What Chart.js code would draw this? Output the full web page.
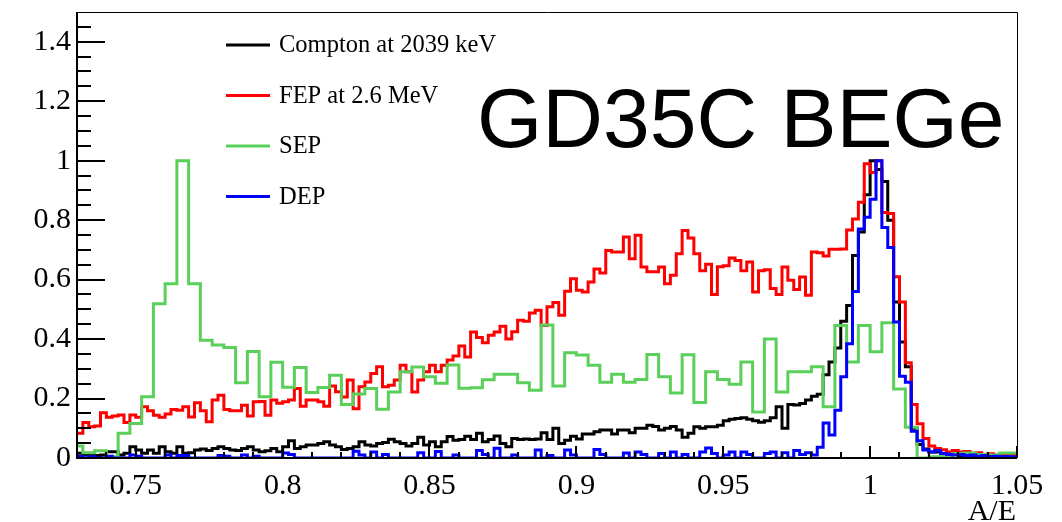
<!DOCTYPE html>
<html>
<head>
<meta charset="utf-8">
<script src="https://cdn.jsdelivr.net/npm/chart.js@4.4.1/dist/chart.umd.min.js"></script>
<style>
  body { margin: 0; background: #fff; }
  canvas { display: block; }
</style>
</head>
<body>
<canvas id="chart-ae" width="1062" height="522"></canvas>
<script>
// A/E distributions, each normalised to its maximum
labels = ['Compton at 2039 keV', 'FEP at 2.6 MeV', 'SEP', 'DEP']
colors = ['rgb(0, 0, 0)', 'rgb(255, 0, 0)', 'rgb(90, 207, 90)', 'rgb(0, 0, 255)']

// fine binning: 0.002 wide from 0.73
fine_start = 0.73
fine_width = 0.002
// SEP binning: 0.004 wide, first edge at 0.728
sep_start = 0.728
sep_width = 0.004

compton = [
    0.016, 0.01, 0.01, 0.008, 0.01, 0.021, 0.021, 0.01, 0.016, 0.038,
    0.027, 0.016, 0.027, 0.016, 0.038, 0.021, 0.016, 0.038, 0.016, 0.018,
    0.027, 0.03, 0.025, 0.032, 0.038, 0.032, 0.027, 0.025, 0.032, 0.038,
    0.027, 0.021, 0.024, 0.032, 0.021, 0.038, 0.058, 0.032, 0.038, 0.044,
    0.044, 0.049, 0.055, 0.044, 0.038, 0.029, 0.032, 0.038, 0.055, 0.044,
    0.04, 0.049, 0.052, 0.063, 0.055, 0.049, 0.04, 0.049, 0.07, 0.044,
    0.055, 0.038, 0.055, 0.072, 0.06, 0.062, 0.073, 0.062, 0.083, 0.055,
    0.062, 0.074, 0.049, 0.038, 0.066, 0.062, 0.064, 0.062, 0.064, 0.085,
    0.062, 0.1, 0.049, 0.06, 0.073, 0.064, 0.081, 0.081, 0.088, 0.094,
    0.094, 0.081, 0.094, 0.094, 0.085, 0.1, 0.1, 0.11, 0.106, 0.094,
    0.1, 0.106, 0.094, 0.07, 0.083, 0.105, 0.1, 0.105, 0.105, 0.11,
    0.125, 0.13, 0.133, 0.135, 0.13, 0.125, 0.12, 0.125, 0.135, 0.172,
    0.1, 0.18, 0.178, 0.183, 0.195, 0.208, 0.214, 0.28, 0.323, 0.37,
    0.46, 0.513, 0.681, 0.76, 0.885, 1.0, 0.97, 0.93, 0.8, 0.525,
    0.39, 0.307, 0.1, 0.045, 0.03, 0.02, 0.02, 0.012, 0.01, 0.015,
    0.008, 0.01, 0.006, 0.008, 0.005, 0.008, 0.004, 0.005, 0.003, 0.004
]

fep = [
    0.083, 0.119, 0.105, 0.108, 0.152, 0.137, 0.141, 0.145, 0.119, 0.145,
    0.137, 0.172, 0.159, 0.144, 0.137, 0.148, 0.163, 0.161, 0.172, 0.138,
    0.186, 0.159, 0.122, 0.195, 0.211, 0.163, 0.159, 0.159, 0.177, 0.141,
    0.189, 0.19, 0.144, 0.195, 0.184, 0.189, 0.195, 0.234, 0.174, 0.195,
    0.195, 0.189, 0.174, 0.242, 0.223, 0.205, 0.262, 0.166, 0.24, 0.256,
    0.284, 0.307, 0.24, 0.245, 0.262, 0.312, 0.29, 0.222, 0.262, 0.29,
    0.312, 0.29, 0.312, 0.33, 0.343, 0.377, 0.34, 0.424, 0.405, 0.388,
    0.413, 0.424, 0.443, 0.4, 0.425, 0.463, 0.46, 0.488, 0.497, 0.446,
    0.509, 0.523, 0.48, 0.561, 0.603, 0.564, 0.558, 0.592, 0.636, 0.622,
    0.698, 0.693, 0.693, 0.743, 0.67, 0.749, 0.642, 0.626, 0.626, 0.642,
    0.586, 0.615, 0.687, 0.765, 0.74, 0.687, 0.63, 0.652, 0.55, 0.643,
    0.647, 0.673, 0.664, 0.63, 0.659, 0.558, 0.63, 0.633, 0.57, 0.55,
    0.642, 0.598, 0.567, 0.609, 0.547, 0.693, 0.69, 0.679, 0.702, 0.702,
    0.703, 0.767, 0.804, 0.86, 0.99, 0.96, 1.0, 0.826, 0.822, 0.61,
    0.525, 0.32, 0.18, 0.115, 0.066, 0.04, 0.032, 0.028, 0.02, 0.025,
    0.02, 0.022, 0.016, 0.018, 0.012, 0.014, 0.01, 0.012, 0.008, 0.01
]

sep = [
    0.04, 0.018, 0.024, 0.004, 0.083, 0.116, 0.206, 0.519, 0.586, 1.0,
    0.586, 0.396, 0.38, 0.372, 0.253, 0.358, 0.206, 0.322, 0.238, 0.304,
    0.22, 0.237, 0.278, 0.18, 0.215, 0.234, 0.164, 0.222, 0.29, 0.306,
    0.273, 0.251, 0.313, 0.235, 0.236, 0.263, 0.282, 0.282, 0.253, 0.228,
    0.447, 0.242, 0.354, 0.346, 0.312, 0.255, 0.282, 0.255, 0.264, 0.348,
    0.273, 0.219, 0.347, 0.187, 0.29, 0.264, 0.248, 0.323, 0.155, 0.4,
    0.222, 0.29, 0.29, 0.307, 0.172, 0.446, 0.323, 0.446, 0.357, 0.455,
    0.232, 0.103, 0, 0.004, 0.006, 0.015, 0.017, 0.012, 0.01, 0.017,
    0.017
]

dep = [
    0.005, 0, 0.004, 0, 0, 0.006, 0, 0, 0, 0.01,
    0.006, 0, 0, 0, 0, 0.01, 0, 0.008, 0.008, 0,
    0, 0, 0, 0, 0.008, 0.006, 0, 0, 0.01, 0,
    0.006, 0, 0, 0, 0, 0.017, 0.012, 0, 0, 0,
    0, 0, 0, 0, 0, 0, 0, 0.023, 0.01, 0,
    0.02, 0, 0.012, 0, 0, 0, 0, 0, 0.018, 0,
    0, 0.022, 0, 0, 0.01, 0, 0, 0, 0.025, 0.012,
    0, 0.033, 0, 0, 0.01, 0, 0, 0, 0.027, 0,
    0.008, 0, 0, 0.027, 0.01, 0, 0, 0, 0.029, 0.012,
    0, 0, 0, 0.017, 0, 0.02, 0.012, 0, 0, 0.015,
    0, 0.02, 0, 0.012, 0, 0, 0.02, 0.034, 0.015, 0,
    0.01, 0.02, 0, 0.02, 0.012, 0, 0, 0.015, 0.02, 0,
    0.018, 0, 0.025, 0.012, 0.018, 0.01, 0.036, 0.118, 0.077, 0.161,
    0.273, 0.384, 0.56, 0.77, 0.81, 0.87, 1.0, 0.775, 0.708, 0.457,
    0.275, 0.255, 0.09, 0.058, 0.027, 0.02, 0.025, 0.015, 0.012, 0.01,
    0.012, 0.008, 0.01, 0.006, 0.008, 0.005, 0.006, 0.004, 0.005, 0.003
]

x_ticks = [0.75, 0.8, 0.85, 0.9, 0.95, 1, 1.05]
y_ticks = [0, 0.2, 0.4, 0.6, 0.8, 1, 1.2, 1.4]
x_min = 0.73
x_max = 1.05
y_max = 1.5

serif = "'Liberation Serif', 'Times New Roman', serif"

// left bin edges plus the closing edge, for a stepped outline
function hist_points(start, width, values) {
    const points = values.map((v, i) => ({x: start + width * i, y: v}))
    points.push({x: start + width * values.length, y: values[values.length - 1]})
    return points
}

function hist_dataset(index, points) {
    return {
        label: labels[index],
        data: points,
        borderColor: colors[index],
        borderWidth: 3,
        stepped: true,
        pointRadius: 0,
        fill: false,
        tension: 0,
        order: 4 - index
    }
}

// ROOT-like frame: inward ticks, closed box, legend and label
root_frame = {
    id: 'root_frame',
    afterDraw(chart) {
        const ctx = chart.ctx
        const area = chart.chartArea
        const xs = chart.scales.x
        const ys = chart.scales.y
        ctx.save()
        ctx.strokeStyle = '#000'

        ctx.lineWidth = 1
        ctx.beginPath()
        ctx.moveTo(area.left, area.top + 0.5)
        ctx.lineTo(area.right + 0.5, area.top + 0.5)
        ctx.lineTo(area.right + 0.5, area.bottom)
        ctx.stroke()

        ctx.lineWidth = 2
        ctx.beginPath()
        ctx.moveTo(area.left, area.top)
        ctx.lineTo(area.left, area.bottom)
        ctx.lineTo(area.right, area.bottom)
        ctx.stroke()

        ctx.beginPath()
        for (let i = 0; i * 0.05 < y_max - 0.01; i++) {
            const py = Math.round(ys.getPixelForValue(i * 0.05))
            const len = i % 4 === 0 ? 28 : 14
            ctx.moveTo(area.left, py)
            ctx.lineTo(area.left + len, py)
        }
        for (let i = 73; i <= 105; i++) {
            const px = Math.round(xs.getPixelForValue(i / 100))
            const len = i % 5 === 0 ? 12 : 6
            ctx.moveTo(px, area.bottom)
            ctx.lineTo(px, area.bottom - len)
        }
        ctx.stroke()

        // legend
        const order = [0, 1, 2, 3]
        ctx.font = '24.5px ' + serif
        ctx.textBaseline = 'middle'
        ctx.textAlign = 'left'
        order.forEach(i => {
            const ly = area.top + 33 + i * 50.5
            ctx.strokeStyle = colors[i]
            ctx.lineWidth = 3
            ctx.beginPath()
            ctx.moveTo(area.left + 149, ly)
            ctx.lineTo(area.left + 193, ly)
            ctx.stroke()
            ctx.fillStyle = '#000'
            ctx.fillText(labels[i], area.left + 202, ly + 1)
        })

        ctx.fillStyle = '#000'
        ctx.font = '84px "Liberation Sans", Arial, sans-serif'
        ctx.textBaseline = 'alphabetic'
        ctx.fillText('GD35C BEGe', 477, 147)

        ctx.font = '30px ' + serif
        ctx.textAlign = 'right'
        ctx.fillText('A/E', area.right - 1, 520)
        ctx.restore()
    }
}

new Chart(document.getElementById('chart-ae').getContext('2d'), {
    type: 'line',
    data: {
        datasets: [
            hist_dataset(0, hist_points(fine_start, fine_width, compton)),
            hist_dataset(1, hist_points(fine_start, fine_width, fep)),
            hist_dataset(2, hist_points(sep_start, sep_width, sep)),
            hist_dataset(3, hist_points(fine_start, fine_width, dep))
        ]
    },
    options: {
        responsive: false,
        animation: false,
        devicePixelRatio: 1,
        parsing: false,
        layout: {
            padding: {left: 0, right: 45, top: 12, bottom: 0}
        },
        plugins: {
            legend: {display: false},
            tooltip: {enabled: false}
        },
        scales: {
            x: {
                type: 'linear',
                min: x_min,
                max: x_max,
                grid: {display: false, drawTicks: false, tickLength: 0},
                border: {display: false},
                ticks: {
                    font: {family: serif, size: 30},
                    color: '#000',
                    padding: 10,
                    maxRotation: 0,
                    autoSkip: false,
                    callback: v => String(+v.toFixed(2))
                },
                afterBuildTicks: scale => {
                    scale.ticks = x_ticks.map(v => ({value: v}))
                },
                afterFit: scale => {
                    scale.height = 64
                    scale.paddingLeft = 0
                    scale.paddingRight = 0
                }
            },
            y: {
                type: 'linear',
                min: 0,
                max: y_max,
                grid: {display: false, drawTicks: false, tickLength: 0},
                border: {display: false},
                ticks: {
                    font: {family: serif, size: 30},
                    color: '#000',
                    padding: 6,
                    autoSkip: false,
                    callback: v => String(+v.toFixed(2))
                },
                afterBuildTicks: scale => {
                    scale.ticks = y_ticks.map(v => ({value: v}))
                },
                afterFit: scale => {
                    scale.width = 77
                    scale.paddingTop = 0
                    scale.paddingBottom = 0
                }
            }
        }
    },
    plugins: [root_frame]
})
</script>
</body>
</html>
